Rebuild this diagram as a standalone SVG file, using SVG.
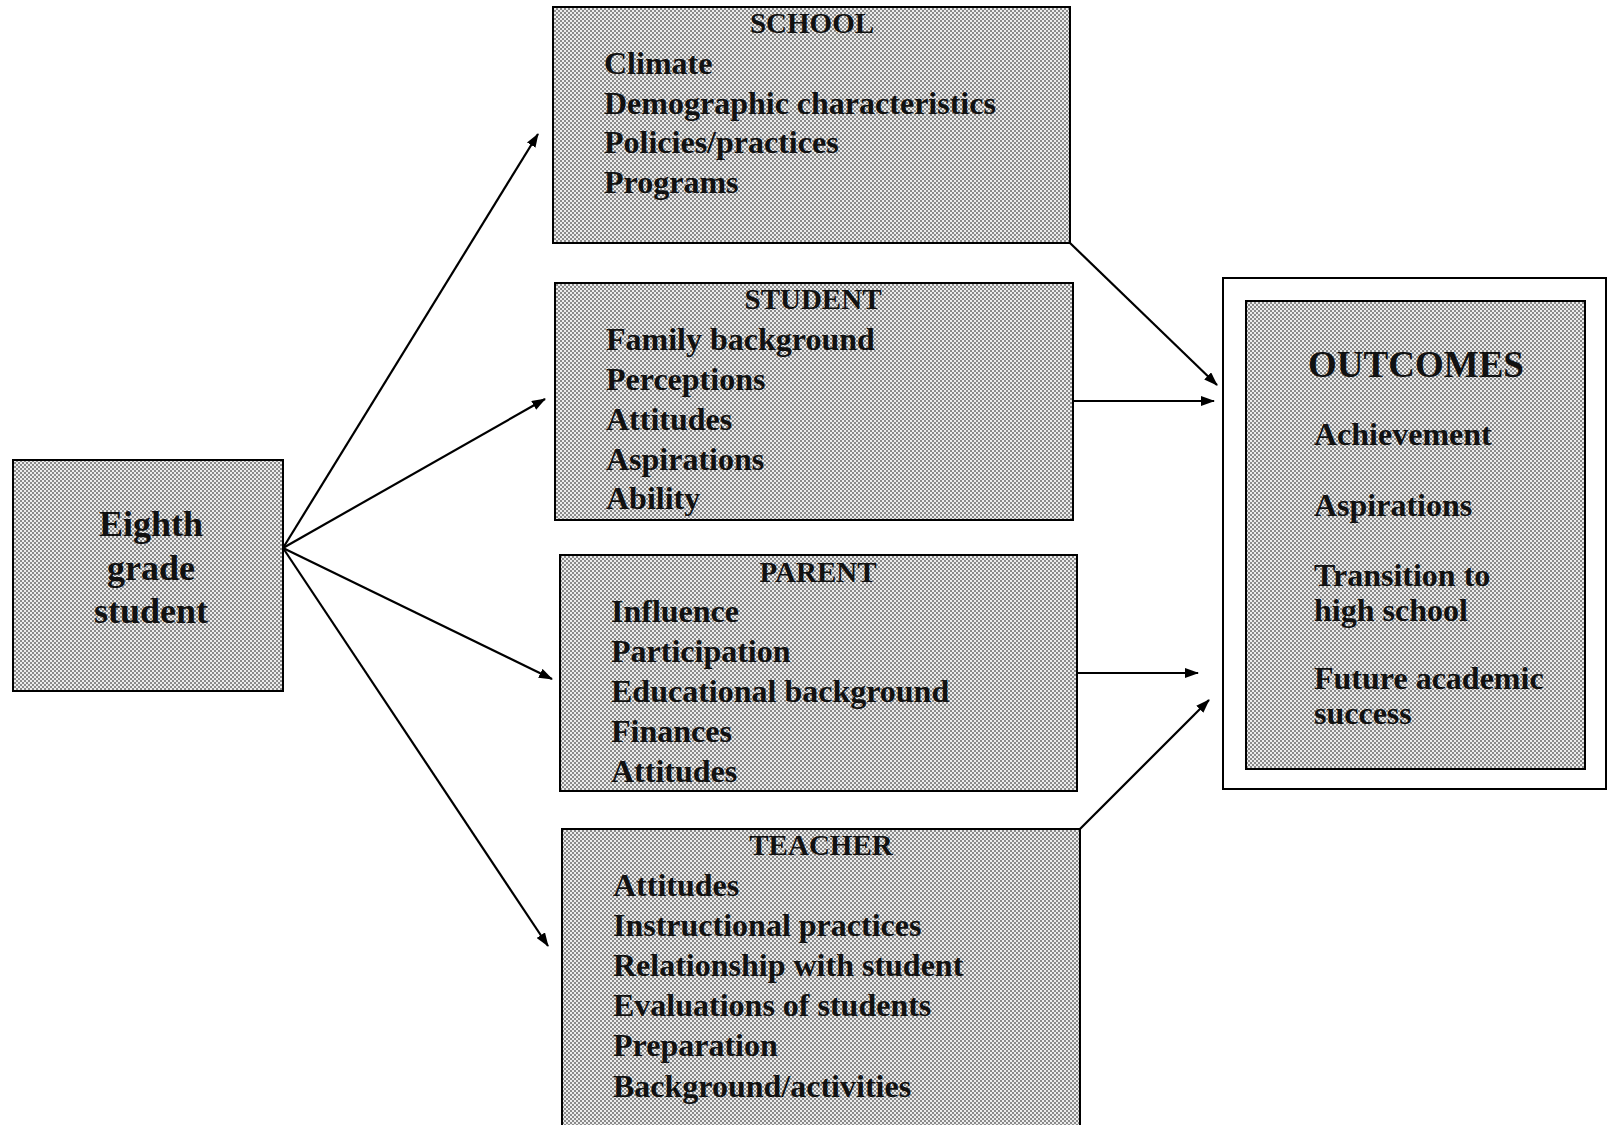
<svg xmlns="http://www.w3.org/2000/svg" width="1613" height="1125" viewBox="0 0 1613 1125">
<style>
.box{fill:url(#dots);stroke:#000;stroke-width:2}
.t{font-family:"Liberation Serif","Times New Roman",serif;font-weight:bold;fill:#111}
.item{font-size:32px}
.title{font-size:29px;text-anchor:middle}
.big{font-size:36px;text-anchor:middle}
.conn line{stroke:#000;stroke-width:2.2;marker-end:url(#ah)}
</style>
<defs>
<pattern id="dots" width="4" height="4" patternUnits="userSpaceOnUse">
<rect width="4" height="4" fill="#ececec"/>
<rect x="0" y="0" width="2" height="2" fill="#8a8a8a"/>
<rect x="2" y="2" width="2" height="2" fill="#8a8a8a"/>
</pattern>
<marker id="ah" markerWidth="14" markerHeight="10" refX="13" refY="5" orient="auto" markerUnits="userSpaceOnUse">
<path d="M0,0 L14,5 L0,10 Z" fill="#000"/>
</marker>
</defs>
<rect width="1613" height="1125" fill="#fff"/>

<g id="eighth">
<rect class="box" x="13" y="460" width="270" height="231"/>
<text class="t big" x="151" y="536">Eighth</text>
<text class="t big" x="151" y="580">grade</text>
<text class="t big" x="151" y="623">student</text>
</g>

<g id="school">
<rect class="box" x="553" y="7" width="517" height="236"/>
<text class="t title" x="812" y="33">SCHOOL</text>
<text class="t item" x="604" y="74">Climate</text>
<text class="t item" x="604" y="114">Demographic characteristics</text>
<text class="t item" x="604" y="153">Policies/practices</text>
<text class="t item" x="604" y="193">Programs</text>
</g>

<g id="student">
<rect class="box" x="555" y="283" width="518" height="237"/>
<text class="t title" x="813" y="309">STUDENT</text>
<text class="t item" x="606" y="350">Family background</text>
<text class="t item" x="606" y="390">Perceptions</text>
<text class="t item" x="606" y="430">Attitudes</text>
<text class="t item" x="606" y="470">Aspirations</text>
<text class="t item" x="606" y="509">Ability</text>
</g>

<g id="parent">
<rect class="box" x="560" y="555" width="517" height="236"/>
<text class="t title" x="818" y="582">PARENT</text>
<text class="t item" x="611" y="622">Influence</text>
<text class="t item" x="611" y="662">Participation</text>
<text class="t item" x="611" y="702">Educational background</text>
<text class="t item" x="611" y="742">Finances</text>
<text class="t item" x="611" y="782">Attitudes</text>
</g>

<g id="teacher">
<rect class="box" x="562" y="829" width="518" height="310"/>
<text class="t title" x="821" y="855">TEACHER</text>
<text class="t item" x="613" y="896">Attitudes</text>
<text class="t item" x="613" y="936">Instructional practices</text>
<text class="t item" x="613" y="976">Relationship with student</text>
<text class="t item" x="613" y="1016">Evaluations of students</text>
<text class="t item" x="613" y="1056">Preparation</text>
<text class="t item" x="613" y="1097">Background/activities</text>
</g>

<g id="outcomes">
<rect x="1223" y="278" width="383" height="511" fill="#fff" stroke="#000" stroke-width="2"/>
<rect class="box" x="1246" y="301" width="339" height="468"/>
<text class="t" x="1416" y="377" font-size="37" text-anchor="middle">OUTCOMES</text>
<text class="t item" x="1314" y="445">Achievement</text>
<text class="t item" x="1314" y="516">Aspirations</text>
<text class="t item" x="1314" y="586">Transition to</text>
<text class="t item" x="1314" y="621">high school</text>
<text class="t item" x="1314" y="689">Future academic</text>
<text class="t item" x="1314" y="724">success</text>
</g>

<g id="connectors" class="conn">
<line x1="283" y1="548" x2="538" y2="134"/>
<line x1="283" y1="548" x2="545" y2="399"/>
<line x1="283" y1="548" x2="552" y2="679"/>
<line x1="283" y1="548" x2="548" y2="946"/>
<line x1="1070" y1="243" x2="1217" y2="385"/>
<line x1="1073" y1="401" x2="1214" y2="401"/>
<line x1="1077" y1="673" x2="1198" y2="673"/>
<line x1="1080" y1="829" x2="1209" y2="700"/>
</g>
</svg>
